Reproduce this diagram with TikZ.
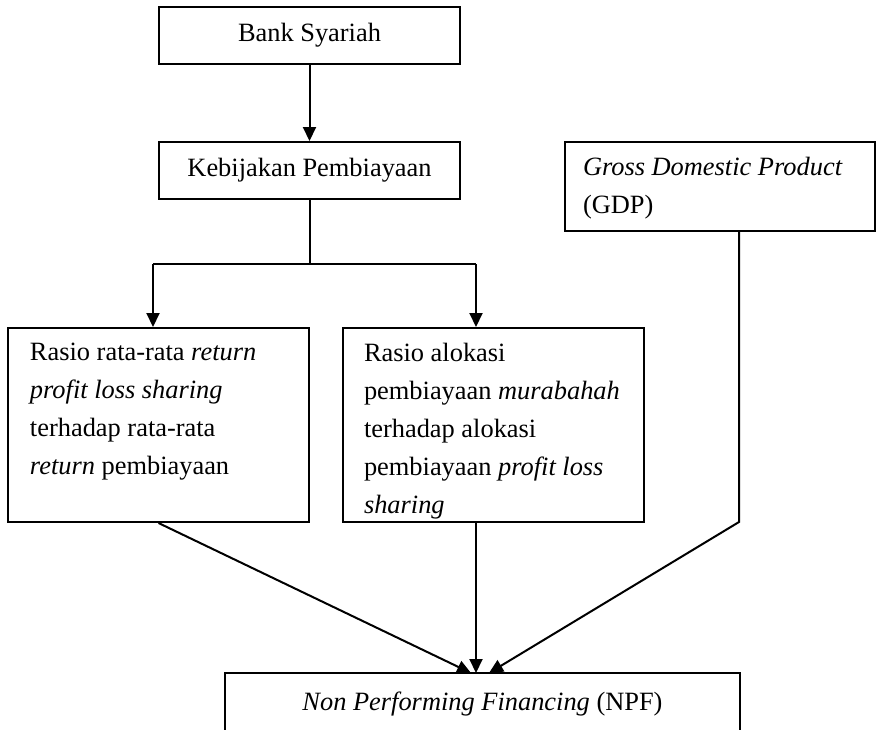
\documentclass[tikz,border=0pt]{standalone}
\usepackage{fontspec}
\setmainfont{Liberation Serif}
\usetikzlibrary{arrows.meta}

\tikzset{
  kotak/.style={shape=rectangle,draw=black,inner sep=0pt,
    minimum width=150.5pt,minimum height=28.5pt},
  kotakteks/.style={shape=rectangle,draw=black,inner xsep=11pt,inner ysep=7.5pt}
}

\begin{document}
\begin{tikzpicture}[x=0.5pt,y=-0.5pt,line width=1pt,
  >={Triangle[length=7pt,width=6.5pt]},
  font=\fontsize{13.2}{19}\selectfont]
\useasboundingbox (0,0) rectangle (884,729);
\node[kotak] (bank) at (309.5,35.5) {Bank Syariah};
\node[kotak] (kebijakan) at (309.5,170.5) {Kebijakan Pembiayaan};
\node[kotakteks,inner xsep=9pt] (gdp) at (720,186.5)
  {\parbox[t][29.5pt][t]{137pt}{\textit{Gross Domestic Product}\\ (GDP)}};
\node[kotakteks] (rasio) at (158.5,425)
  {\parbox[t][82pt][t]{128.5pt}{Rasio rata-rata \textit{return}\\
   \textit{profit loss sharing}\\ terhadap rata-rata\\ \textit{return} pembiayaan}};
\node[kotakteks,inner xsep=10.5pt] (alokasi) at (493.5,425)
  {\parbox[t][82pt][t]{129.5pt}{Rasio alokasi\\ pembiayaan \textit{murabahah}\\
   terhadap alokasi\\ pembiayaan \textit{profit loss}\\ \textit{sharing}}};
\node[kotak,minimum width=257.5pt,minimum height=31pt] (npf) at (482.5,704)
  {\textit{Non Performing Financing} (NPF)};
\coordinate (split) at (309.5,264);
\coordinate (jl) at (153,264);
\coordinate (jr) at (476,264);
\coordinate (bend) at (739,522);
\coordinate (tipl) at (471,673);
\coordinate (tipm) at (476,673);
\coordinate (tipr) at (489,673);
\draw[->] (bank) -- (kebijakan);
\draw (kebijakan) -- (split);
\draw (jl) -- (jr);
\draw[->] (jl) -- (jl |- rasio.north);
\draw[->] (jr) -- (jr |- alokasi.north);
\draw[->] (rasio.south) -- (tipl);
\draw[->] (jr |- alokasi.south) -- (tipm);
\draw[->] (gdp.south -| bend) -- (bend) -- (tipr);
\end{tikzpicture}
\end{document}
